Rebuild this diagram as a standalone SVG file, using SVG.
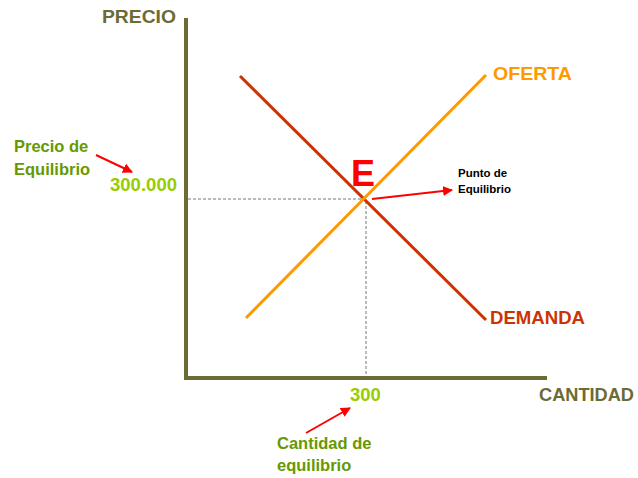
<svg xmlns="http://www.w3.org/2000/svg" width="638" height="478" viewBox="0 0 638 478">
<defs>
<style>
text{font-family:"Liberation Sans",Arial,sans-serif;font-weight:bold}
.ax{stroke:#6b6b33;stroke-width:4;fill:none}
.axl{fill:#6b6b33;font-size:18.5px}
.dash{stroke:#777;stroke-width:1;stroke-dasharray:3,2;fill:none}
.red{stroke:#ff0000;stroke-width:2;fill:none}
.gl{fill:#669900;font-size:16.5px}
.gv{fill:#99cc00;font-size:18.5px}
</style>
<marker id="ah" viewBox="0 0 10 10" refX="9" refY="5" markerWidth="5" markerHeight="5" orient="auto"><path d="M0,0L10,5L0,10z" fill="#ff0000"/></marker>
</defs>
<g id="axes">
<path class="ax" d="M186,18V378H547"/>
<text class="axl" x="102" y="23" textLength="74" lengthAdjust="spacingAndGlyphs">PRECIO</text>
<text class="axl" x="539" y="401" textLength="95" lengthAdjust="spacingAndGlyphs">CANTIDAD</text>
</g>
<g id="connectors">
<path class="dash" d="M188,199H366V376"/>
<line x1="240" y1="76" x2="486" y2="320" stroke="#cc3300" stroke-width="3"/>
<line x1="246" y1="318" x2="486" y2="75" stroke="#ff9900" stroke-width="3"/>
<line class="red" x1="372" y1="199" x2="452" y2="190" marker-end="url(#ah)"/>
<line class="red" x1="96" y1="155" x2="132" y2="172" marker-end="url(#ah)"/>
<line class="red" x1="306" y1="433" x2="350" y2="408" marker-end="url(#ah)"/>
</g>
<g id="oferta"><text x="493" y="80" fill="#ff9900" font-size="19" textLength="79" lengthAdjust="spacingAndGlyphs">OFERTA</text></g>
<g id="demanda"><text x="490" y="324" fill="#cc3300" font-size="18.5" textLength="95" lengthAdjust="spacingAndGlyphs">DEMANDA</text></g>
<g id="E"><text x="351" y="186" fill="#ff0000" font-size="36">E</text></g>
<g id="punto"><text x="458" y="177" fill="#000" font-size="11.5">Punto de</text><text x="458" y="193" fill="#000" font-size="11.5">Equilibrio</text></g>
<g id="precioEq"><text class="gl" x="14" y="152">Precio de</text><text class="gl" x="14" y="175">Equilibrio</text></g>
<g id="p300000"><text class="gv" x="110" y="191" textLength="67" lengthAdjust="spacingAndGlyphs">300.000</text></g>
<g id="q300"><text class="gv" x="350" y="401">300</text></g>
<g id="cantEq"><text class="gl" x="277" y="449">Cantidad de</text><text class="gl" x="277" y="471">equilibrio</text></g>
</svg>
